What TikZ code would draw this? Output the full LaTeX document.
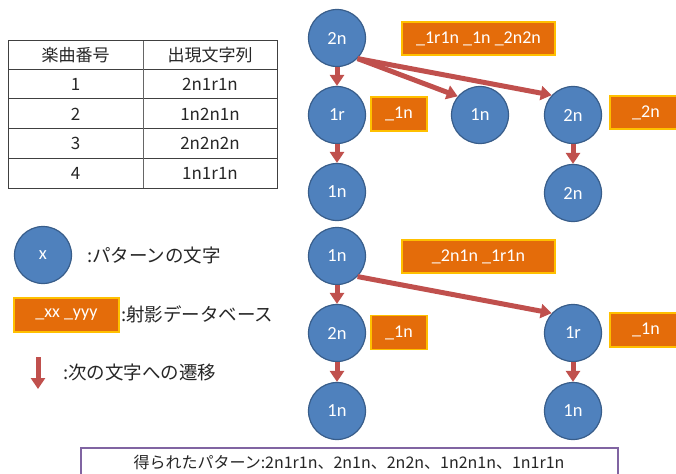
\documentclass[tikz,border=0pt]{standalone}
\usepackage{fontspec}
\usetikzlibrary{arrows.meta}
\newfontfamily\jp{Noto Sans CJK JP}
\newfontfamily\carl{Carlito}
\definecolor{cfill}{HTML}{4F81BD}
\definecolor{cline}{HTML}{385D8A}
\definecolor{ofill}{HTML}{E46C0A}
\definecolor{oline}{HTML}{FFC000}
\definecolor{ared}{HTML}{C0504D}
\definecolor{purp}{HTML}{8064A2}
\tikzset{
  circ/.style={circle, fill=cfill, draw=cline, line width=1.2pt, minimum size=57pt, inner sep=0pt, text=white, font=\carl\fontsize{18.5}{18.5}\selectfont},
  obox/.style={rectangle, fill=ofill, draw=oline, line width=1.5pt, inner sep=0pt, text=white, font=\carl\fontsize{18}{18}\selectfont},
  tr/.style={ared, line width=5pt, -{Triangle[width=14pt,length=11pt]}},
  ttxt/.style={font=\jp\fontsize{17}{17}\selectfont, text=black!85},
  ltxt/.style={anchor=west, inner sep=0pt, font=\jp\fontsize{18.5}{18.5}\selectfont, text=black!85},
}
\begin{document}
\begin{tikzpicture}[x=1pt,y=-1pt]
\clip (0,0) rectangle (676,473);
% table
\draw[black!75, line width=1pt] (8,41) rectangle (277,188);
\foreach \yy in {70,99,129,158} \draw[black!75, line width=1pt] (8,\yy) -- (277,\yy);
\draw[black!60, line width=1pt] (143,41) -- (143,188);
\node[ttxt] (h1) at (75.5,55.5) {楽曲番号};
\node[ttxt] (h2) at (210,55.5) {出現文字列};
\node[ttxt] (r1a) at (75.5,84.5) {1};
\node[ttxt] (r1b) at (210,84.5) {2n1r1n};
\node[ttxt] (r2a) at (75.5,114) {2};
\node[ttxt] (r2b) at (210,114) {1n2n1n};
\node[ttxt] (r3a) at (75.5,143.5) {3};
\node[ttxt] (r3b) at (210,143.5) {2n2n2n};
\node[ttxt] (r4a) at (75.5,173) {4};
\node[ttxt] (r4b) at (210,173) {1n1r1n};
% legend
\node[circ] (lc) at (43,255) {x};
\node[ltxt] (lct) at (87,255) {:パターンの文字};
\node[obox, minimum width=105pt, minimum height=34pt] (lb) at (66.5,315) {\_xx \_yyy};
\node[ltxt] (lbt) at (121,314) {:射影データベース};
\coordinate (la1) at (38,357);
\coordinate (la2) at (38,389);
\draw[tr] (la1) -- (la2);
\node[ltxt] (lat) at (63,372) {:次の文字への遷移};
% upper tree
\node[circ] (a) at (337,38) {2n};
\node[circ] (b) at (337,115) {1r};
\node[circ] (c) at (337,192) {1n};
\node[circ] (d) at (480,115) {1n};
\node[circ] (e) at (573,115) {2n};
\node[circ] (f) at (573,193) {2n};
\node[obox, minimum width=153pt, minimum height=33pt] (ba) at (478.5,38.5) {\_1r1n \_1n \_2n2n};
\node[obox, minimum width=56pt, minimum height=34pt] (bb) at (399,114) {\_1n};
\node[obox, minimum width=72pt, minimum height=33pt] (be) at (646,112.5) {\_2n};
\draw[tr] (a) -- (b);
\draw[tr] (b) -- (c);
\draw[tr] (e) -- (f);
\draw[tr] (a.-45) -- (d.140);
\draw[tr] (a.-45) -- (e.137);
% lower tree
\node[circ] (g) at (337,256) {1n};
\node[circ] (h) at (337,333) {2n};
\node[circ] (i) at (337,411) {1n};
\node[circ] (j) at (573,333) {1r};
\node[circ] (k) at (573,411) {1n};
\node[obox, minimum width=153pt, minimum height=33pt] (bg) at (478.5,256.5) {\_2n1n \_1r1n};
\node[obox, minimum width=56pt, minimum height=34pt] (bh) at (399,332.5) {\_1n};
\node[obox, minimum width=72pt, minimum height=34pt] (bj) at (646,330) {\_1n};
\draw[tr] (g) -- (h);
\draw[tr] (h) -- (i);
\draw[tr] (j) -- (k);
\draw[tr] (g.-45) -- (j.137);
% result box
\node[draw=purp, line width=1.5pt, fill=white, minimum width=537pt, minimum height=36pt, anchor=north west, inner sep=0pt] (res) at (80,447) {};
\node[font=\jp\fontsize{16}{16}\selectfont, text=black!85] (rest) at (349,462) {得られたパターン:2n1r1n、2n1n、2n2n、1n2n1n、1n1r1n};
\end{tikzpicture}
\end{document}
